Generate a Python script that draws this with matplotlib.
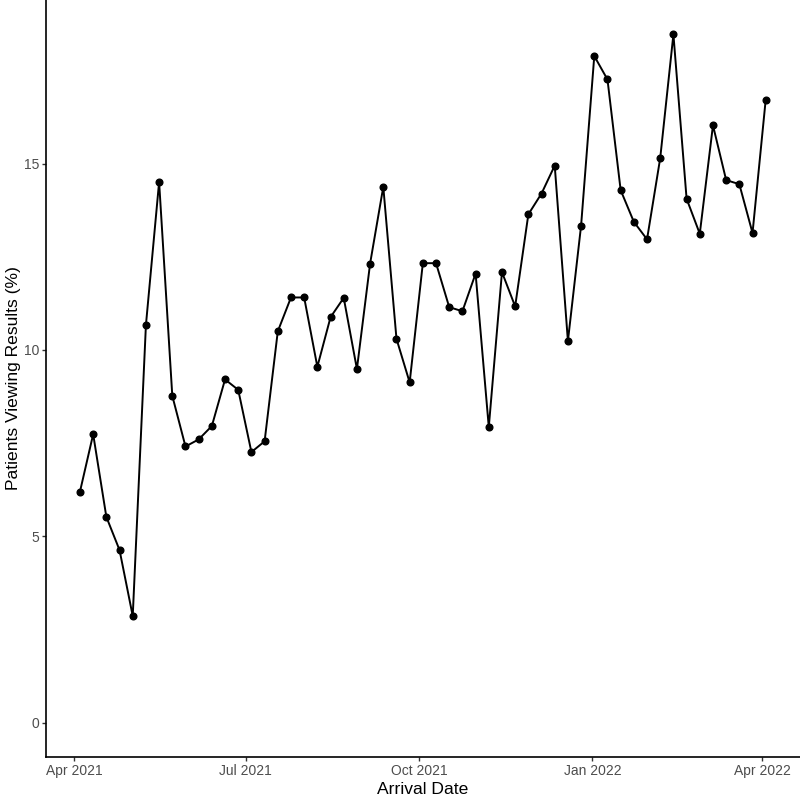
import matplotlib
matplotlib.use("Agg")
import matplotlib.pyplot as plt
import matplotlib.dates as mdates
import numpy as np
import pandas as pd

plt.rcParams['font.family'] = ['Liberation Sans', 'DejaVu Sans']

start_date = "2021-04-04"
n_weeks = 53
pct_viewing = [
    6.20, 7.74, 5.52, 4.63, 2.86, 10.67, 14.51, 8.77, 7.41, 7.60,
    7.96, 9.21, 8.93, 7.26, 7.55, 10.50, 11.41, 11.41, 9.55, 10.88,
    11.40, 9.49, 12.32, 14.38, 10.30, 9.13, 12.33, 12.33, 11.15, 11.04,
    12.05, 7.93, 12.09, 11.17, 13.64, 14.20, 14.95, 10.24, 13.34, 17.89,
    17.26, 14.29, 13.44, 12.97, 15.15, 18.47, 14.06, 13.12, 16.03, 14.56,
    14.45, 13.14, 16.72,
]
y_ticks = [0, 5, 10, 15]
x_label = "Arrival Date"
y_label = "Patients Viewing Results (%)"

dates = pd.date_range(start_date, periods=n_weeks, freq="7D")
xnum = mdates.date2num(dates.to_pydatetime())

W, H, DPI = 800, 796, 100
fig = plt.figure(figsize=(W / DPI, H / DPI), dpi=DPI)
ax = fig.add_axes([45.7 / W, 39 / H, (W - 45.7) / W, 757 / H])

ax.plot(xnum, pct_viewing, color="black", linewidth=1.4, zorder=2)
ax.plot(xnum, pct_viewing, linestyle="none", marker="o", markersize=4.8,
        color="black", zorder=3)

xr = xnum.max() - xnum.min()
ax.set_xlim(xnum.min() - 0.05 * xr, xnum.max() + 0.05 * xr)
ylo, yhi = 0, max(pct_viewing)
yr = yhi - ylo
ax.set_ylim(ylo - 0.05 * yr, yhi + 0.05 * yr)

ax.xaxis.set_major_locator(mdates.MonthLocator(bymonth=[1, 4, 7, 10]))
ax.xaxis.set_major_formatter(mdates.DateFormatter("%b %Y"))
ax.set_yticks(y_ticks)

for s in ["top", "right"]:
    ax.spines[s].set_visible(False)
for s in ["left", "bottom"]:
    ax.spines[s].set_linewidth(1.2)
    ax.spines[s].set_color("black")

ax.tick_params(axis="both", length=2.7, width=1.0, color="#333333",
               labelsize=10, labelcolor="#4D4D4D", pad=2.2)
ax.set_xlabel(x_label, fontsize=12.6, color="black", labelpad=3.0)
ax.set_ylabel(y_label, fontsize=12.6, color="black", labelpad=1.8)

fig.savefig("out.png", dpi=DPI)
